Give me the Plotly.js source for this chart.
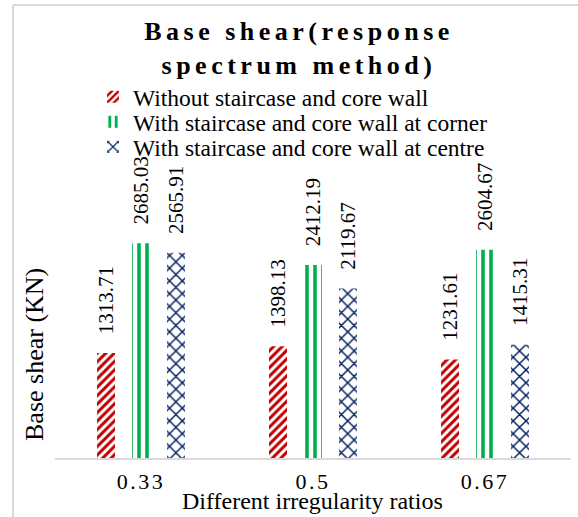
<!DOCTYPE html>
<html>
<head>
<meta charset="utf-8">
<script src="https://cdn.plot.ly/plotly-3.0.1.min.js"></script>
<style>
html, body { margin: 0; padding: 0; background: #fff; }
#chart { width: 578px; height: 517px; }
.gtitle { letter-spacing: 4.5px; }
.xtick text { letter-spacing: 2.5px; }
</style>
</head>
<body>
<div id="chart"></div>
<script>
const categories = ['0.33', '0.5', '0.67'];
const seriesNames = [
  'Without staircase and core wall',
  'With staircase and core wall at corner',
  'With staircase and core wall at centre'
];
const withoutWall = [1313.71, 1398.13, 1231.61];
const cornerWall = [2685.03, 2412.19, 2604.67];
const centreWall = [2565.91, 2119.67, 1415.31];

const font = 'Liberation Serif, Times New Roman, serif';
const fmt = v => v.map(x => '\u00a0\u00a0\u00a0' + x.toFixed(2));

// plot area in pixels
const L = 55, R = 571, T = 90, B = 458;
const W = R - L, H = B - T;
const px = x => (x - L) / W;
const py = y => (B - y) / H;

function bar(name, vals, color, shape, size, solidity, legendId) {
  return {
    type: 'bar', name: name, x: categories, y: vals,
    legend: legendId,
    text: fmt(vals), textposition: 'outside', textangle: -90,
    constraintext: 'none', cliponaxis: false,
    textfont: { family: font, size: 21, color: '#000' },
    marker: {
      color: '#ffffff',
      line: { width: 0 },
      pattern: { shape: shape, fgcolor: color, bgcolor: '#ffffff', size: size, solidity: solidity, fillmode: 'replace' }
    },
    hoverinfo: 'none'
  };
}

const data = [
  bar(seriesNames[0], withoutWall, '#c00000', '/', 6, 0.5, 'legend'),
  bar(seriesNames[1], cornerWall, '#00b050', '|', 8, 0.45, 'legend2'),
  bar(seriesNames[2], centreWall, '#002060', 'x', 9, 0.3, 'legend3')
];

function leg(cy) {
  return {
    x: px(93), y: py(cy), xanchor: 'left', yanchor: 'middle',
    font: { family: font, size: 23.5, color: '#000' },
    bgcolor: 'rgba(0,0,0,0)', itemwidth: 30
  };
}

const layout = {
  width: 578, height: 517,
  margin: { l: L, r: 578 - R, t: T, b: 517 - B },
  paper_bgcolor: '#fff', plot_bgcolor: '#fff',
  font: { family: font, color: '#000' },
  barmode: 'group', bargap: 0.39, bargroupgap: 0.486,
  title: {
    text: '<b>Base shear(response<br>spectrum method)</b>',
    font: { family: font, size: 26, color: '#000' },
    x: 299 / 578, xref: 'container', xanchor: 'center',
    y: 1 - 40 / 517, yref: 'container', yanchor: 'top'
  },
  showlegend: true,
  legend: leg(97),
  legend2: leg(122),
  legend3: leg(147),
  xaxis: {
    type: 'category', showgrid: false, zeroline: false,
    showline: true, linecolor: '#d9d9d9', linewidth: 1.5,
    ticks: '', tickfont: { family: font, size: 22, color: '#000' },
    ticklabelstandoff: 3
  },
  yaxis: {
    range: [0, 4600], showgrid: false, zeroline: false, showline: false,
    showticklabels: false, ticks: ''
  },
  annotations: [
    {
      text: 'Base shear (KN)', xref: 'paper', yref: 'paper',
      x: px(34), y: py(355), textangle: -90,
      showarrow: false, xanchor: 'center', yanchor: 'middle',
      font: { family: font, size: 26, color: '#000' }
    },
    {
      text: 'Different irregularity ratios', xref: 'paper', yref: 'paper',
      x: px(312), y: py(501),
      showarrow: false, xanchor: 'center', yanchor: 'middle',
      font: { family: font, size: 24, color: '#000' }
    }
  ],
  shapes: [
    { type: 'line', xref: 'paper', yref: 'paper', x0: px(13), x1: px(13), y0: py(5), y1: py(520), line: { color: '#d9d9d9', width: 2 } },
    { type: 'line', xref: 'paper', yref: 'paper', x0: px(13), x1: px(580), y0: py(5), y1: py(5), line: { color: '#d9d9d9', width: 2 } }
  ]
};

Plotly.newPlot('chart', data, layout, { staticPlot: true, displayModeBar: false });
</script>
</body>
</html>
